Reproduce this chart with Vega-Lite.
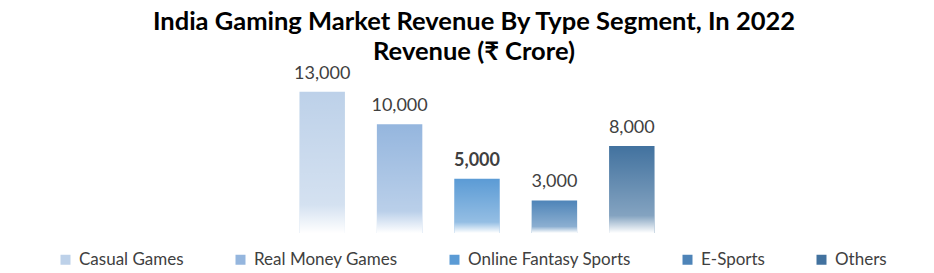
{
  "$schema": "https://vega.github.io/schema/vega-lite/v6.json",
  "autosize": "none",
  "width": 386,
  "height": 163,
  "padding": {"top": 70, "left": 284, "right": 264, "bottom": 40},
  "background": "white",
  "view": {"stroke": null},
  "title": {
    "text": ["India Gaming Market Revenue By Type Segment, In 2022", "Revenue (₹ Crore)"],
    "font": "Lato",
    "fontSize": 25.5,
    "fontWeight": "bold",
    "color": "black",
    "anchor": "middle",
    "frame": "group",
    "baseline": "bottom",
    "dx": -3,
    "dy": 34,
    "lineHeight": 30,
    "offset": 8
  },
  "data": {
    "values": [
      {"segment": "Casual Games", "revenue": 13000},
      {"segment": "Real Money Games", "revenue": 10000},
      {"segment": "Online Fantasy Sports", "revenue": 5000},
      {"segment": "E-Sports", "revenue": 3000},
      {"segment": "Others", "revenue": 8000}
    ]
  },
  "encoding": {
    "x": {
      "field": "segment",
      "type": "nominal",
      "sort": null,
      "axis": null,
      "scale": {"paddingInner": 0.413, "paddingOuter": 0.2}
    },
    "y": {
      "field": "revenue",
      "type": "quantitative",
      "axis": null,
      "scale": {"domain": [0, 15000]}
    }
  },
  "layer": [
    {
      "mark": {"type": "bar"},
      "encoding": {
        "color": {
          "field": "segment",
          "type": "nominal",
          "sort": null,
          "scale": {
            "domain": ["Casual Games", "Real Money Games", "Online Fantasy Sports", "E-Sports", "Others"],
            "range": ["#bdd1e9", "#95b6de", "#5b9bd5", "#4e84b8", "#42729f"]
          },
          "legend": {
            "orient": "none",
            "legendX": -227,
            "legendY": 181,
            "direction": "horizontal",
            "columns": 5,
            "title": null,
            "symbolType": "square",
            "symbolSize": 100,
            "symbolStrokeWidth": 0,
            "symbolOpacity": 1,
            "labelFont": "Lato",
            "labelFontSize": 17,
            "labelColor": "#404040",
            "labelOffset": 5,
            "labelLimit": 400,
            "columnPadding": 48
          }
        }
      }
    },
    {
      "mark": {
        "type": "bar",
        "fill": {
          "gradient": "linear",
          "x1": 0, "y1": 0, "x2": 0, "y2": 1,
          "stops": [
            {"offset": 0, "color": "rgba(255,255,255,0)"},
            {"offset": 0.8, "color": "rgba(255,255,255,0.35)"},
            {"offset": 1, "color": "rgba(255,255,255,1)"}
          ]
        }
      }
    },
    {
      "transform": [{"filter": "datum.segment !== 'Online Fantasy Sports'"}],
      "mark": {"type": "text", "dy": -13, "baseline": "alphabetic", "fontSize": 18, "font": "Lato", "color": "#404040"},
      "encoding": {
        "text": {"field": "revenue", "type": "quantitative", "format": ","}
      }
    },
    {
      "transform": [{"filter": "datum.segment === 'Online Fantasy Sports'"}],
      "mark": {"type": "text", "dy": -13, "baseline": "alphabetic", "fontSize": 18, "font": "Lato", "fontWeight": "bold", "color": "#404040"},
      "encoding": {
        "text": {"field": "revenue", "type": "quantitative", "format": ","}
      }
    }
  ]
}
